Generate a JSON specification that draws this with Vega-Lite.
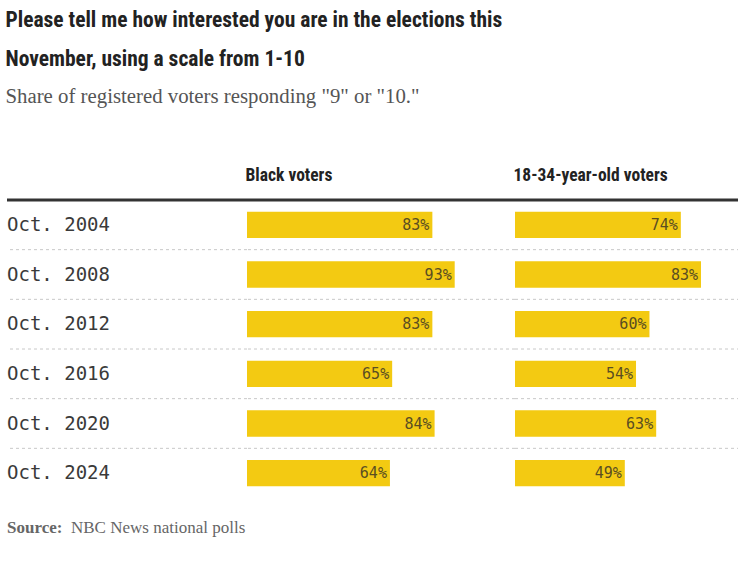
{
  "$schema": "https://vega.github.io/schema/vega-lite/v6.json",
  "padding": {"left": 5, "right": 0, "top": 9, "bottom": 5},
  "background": "white",
  "config": {"view": {"stroke": null}},
  "title": {
    "text": ["Please tell me how interested you are in the elections this", "November, using a scale from 1-10"],
    "subtitle": "Share of registered voters responding \"9\" or \"10.\"",
    "anchor": "start",
    "font": "Roboto Condensed, DejaVu Sans Condensed, Roboto",
    "fontSize": 21.5,
    "fontWeight": "bold",
    "color": "#222222",
    "lineHeight": 39,
    "subtitleFont": "Liberation Serif",
    "subtitleFontSize": 20.8,
    "subtitleColor": "#555555",
    "subtitlePadding": 17,
    "offset": 60
  },
  "datasets": {
    "polls": [
      {"year": "Oct. 2004", "black": 0.83, "young": 0.74},
      {"year": "Oct. 2008", "black": 0.93, "young": 0.83},
      {"year": "Oct. 2012", "black": 0.83, "young": 0.60},
      {"year": "Oct. 2016", "black": 0.65, "young": 0.54},
      {"year": "Oct. 2020", "black": 0.84, "young": 0.63},
      {"year": "Oct. 2024", "black": 0.64, "young": 0.49}
    ]
  },
  "vconcat": [
    {
      "hconcat": [
        {
          "width": 240,
          "height": 298,
          "data": {"name": "polls"},
          "title": {"text": " ", "fontSize": 17.5, "offset": 14},
          "encoding": {
            "y": {"field": "year", "type": "ordinal", "axis": null,
                  "scale": {"type": "band", "paddingInner": 0, "paddingOuter": 0,
                            "domain": ["Oct. 2004", "Oct. 2008", "Oct. 2012", "Oct. 2016", "Oct. 2020", "Oct. 2024"]}}
          },
          "layer": [
            {"transform": [{"filter": "datum.year != 'Oct. 2004'"}],
             "mark": {"type": "rule", "strokeDash": [3, 3], "color": "#c8c8c8", "strokeWidth": 1},
             "encoding": {"y": {"field": "year", "type": "ordinal", "bandPosition": 0}}},
            {"transform": [{"filter": "datum.year == 'Oct. 2004'"}],
             "mark": {"type": "rule", "color": "#333333", "strokeWidth": 3},
             "encoding": {"y": {"field": "year", "type": "ordinal", "bandPosition": 0}}},
            {"mark": {"type": "text", "align": "left", "baseline": "middle", "font": "DejaVu Sans Mono", "fontSize": 19, "color": "#3a3a3a"},
             "encoding": {"x": {"value": 0}, "text": {"field": "year"}}}
          ]
        },
        {
          "width": 268,
          "height": 298,
          "data": {"name": "polls"},
          "title": {"text": "Black voters", "anchor": "start", "font": "Roboto Condensed, DejaVu Sans Condensed, Roboto", "fontSize": 17.5, "fontWeight": "bold", "color": "#222222", "offset": 14},
          "encoding": {
            "y": {"field": "year", "type": "ordinal", "axis": null,
                  "scale": {"type": "band", "paddingInner": 0, "paddingOuter": 0,
                            "domain": ["Oct. 2004", "Oct. 2008", "Oct. 2012", "Oct. 2016", "Oct. 2020", "Oct. 2024"]}}
          },
          "layer": [
            {"transform": [{"filter": "datum.year != 'Oct. 2004'"}],
             "mark": {"type": "rule", "strokeDash": [3, 3], "color": "#c8c8c8", "strokeWidth": 1},
             "encoding": {"y": {"field": "year", "type": "ordinal", "bandPosition": 0}}},
            {"transform": [{"filter": "datum.year == 'Oct. 2004'"}],
             "mark": {"type": "rule", "color": "#333333", "strokeWidth": 3},
             "encoding": {"y": {"field": "year", "type": "ordinal", "bandPosition": 0}}},
            {"mark": {"type": "bar", "color": "#F3CA12", "height": {"band": 0.53}},
             "encoding": {"x": {"field": "black", "type": "quantitative", "axis": null, "scale": {"domain": [0, 1.2], "nice": false}}}},
            {"mark": {"type": "text", "align": "right", "baseline": "middle", "dx": -3, "font": "DejaVu Sans Mono", "fontSize": 15, "color": "#5a4e22"},
             "encoding": {"x": {"field": "black", "type": "quantitative"}, "text": {"field": "black", "type": "quantitative", "format": ".0%"}}}
          ]
        },
        {
          "width": 225,
          "height": 298,
          "data": {"name": "polls"},
          "title": {"text": "18-34-year-old voters", "anchor": "start", "font": "Roboto Condensed, DejaVu Sans Condensed, Roboto", "fontSize": 17.5, "fontWeight": "bold", "color": "#222222", "offset": 14},
          "encoding": {
            "y": {"field": "year", "type": "ordinal", "axis": null,
                  "scale": {"type": "band", "paddingInner": 0, "paddingOuter": 0,
                            "domain": ["Oct. 2004", "Oct. 2008", "Oct. 2012", "Oct. 2016", "Oct. 2020", "Oct. 2024"]}}
          },
          "layer": [
            {"transform": [{"filter": "datum.year != 'Oct. 2004'"}],
             "mark": {"type": "rule", "strokeDash": [3, 3], "color": "#c8c8c8", "strokeWidth": 1},
             "encoding": {"y": {"field": "year", "type": "ordinal", "bandPosition": 0}}},
            {"transform": [{"filter": "datum.year == 'Oct. 2004'"}],
             "mark": {"type": "rule", "color": "#333333", "strokeWidth": 3},
             "encoding": {"y": {"field": "year", "type": "ordinal", "bandPosition": 0}}},
            {"mark": {"type": "bar", "color": "#F3CA12", "height": {"band": 0.53}},
             "encoding": {"x": {"field": "young", "type": "quantitative", "axis": null, "scale": {"domain": [0, 1.004], "nice": false}}}},
            {"mark": {"type": "text", "align": "right", "baseline": "middle", "dx": -3, "font": "DejaVu Sans Mono", "fontSize": 15, "color": "#5a4e22"},
             "encoding": {"x": {"field": "young", "type": "quantitative"}, "text": {"field": "young", "type": "quantitative", "format": ".0%"}}}
          ]
        }
      ],
      "spacing": 0,
      "bounds": "flush"
    },
    {
      "width": 400,
      "height": 20,
      "data": {"values": [{"source": "NBC News national polls"}]},
      "layer": [
        {"mark": {"type": "text", "text": "Source:", "font": "Liberation Serif", "fontWeight": "bold", "fontSize": 17, "color": "#666666", "align": "left", "baseline": "middle"},
         "encoding": {"x": {"value": 0}, "y": {"value": 10}}},
        {"mark": {"type": "text", "font": "Liberation Serif", "fontSize": 17, "color": "#666666", "align": "left", "baseline": "middle"},
         "encoding": {"x": {"value": 64}, "y": {"value": 10}, "text": {"field": "source"}}}
      ]
    }
  ],
  "spacing": 20
}
